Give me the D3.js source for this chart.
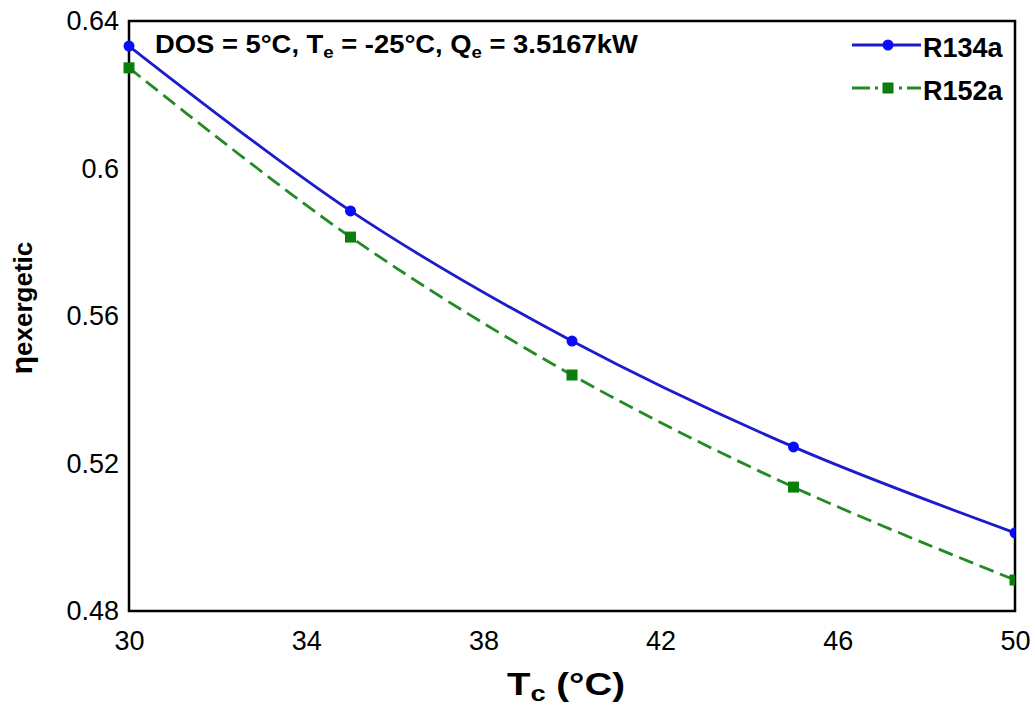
<!DOCTYPE html>
<html><head><meta charset="utf-8">
<script src="https://cdn.jsdelivr.net/npm/d3@7"></script>
<style>body{margin:0;background:#fff;}svg{display:block;font-family:Arial,"Liberation Sans",sans-serif;}</style>
</head><body>
<svg id="chart" width="1035" height="710"></svg>
<script>
const tc = [30, 35, 40, 45, 50];
const r134a = [0.6332, 0.5885, 0.5532, 0.5245, 0.5012];
const r152a = [0.6273, 0.5814, 0.5440, 0.5136, 0.4884];
const xTicks = [30, 34, 38, 42, 46, 50];
const yTicks = [0.48, 0.52, 0.56, 0.6, 0.64];
const yTickLabels = ["0.48", "0.52", "0.56", "0.6", "0.64"];
const seriesNames = ["R134a", "R152a"];

const svg = d3.select("#chart");
const FF = "Arial, 'Liberation Sans', sans-serif";
const L = 129, R = 1015, T = 21, B = 611;
const x = d3.scaleLinear().domain([30, 50]).range([L, R]);
const y = d3.scaleLinear().domain([0.48, 0.64]).range([B, T]);

// axes (labels only, no tick marks)
const xAxis = svg.append("g").attr("transform", `translate(0,${B})`)
  .call(d3.axisBottom(x).tickValues(xTicks).tickSize(0).tickPadding(20).tickFormat(d3.format("d")));
xAxis.select(".domain").remove();
xAxis.selectAll("text").attr("font-size", 27).attr("font-family", FF).attr("fill", "#000");

const yAxis = svg.append("g").attr("transform", `translate(${L},0)`)
  .call(d3.axisLeft(y).tickValues(yTicks).tickSize(0).tickPadding(10).tickFormat((d, i) => yTickLabels[i]));
yAxis.select(".domain").remove();
yAxis.selectAll("text").attr("font-size", 27).attr("font-family", FF).attr("fill", "#000");

// frame
svg.append("rect").attr("x", L).attr("y", T).attr("width", R - L).attr("height", B - T)
  .attr("fill", "none").attr("stroke", "#000").attr("stroke-width", 2.5);

const line = d3.line().x((d, i) => x(tc[i])).y(d => y(d)).curve(d3.curveCatmullRom.alpha(0.5));

svg.append("clipPath").attr("id", "clip").append("rect")
  .attr("x", L - 6).attr("y", T).attr("width", R - L + 6).attr("height", B - T);

const g = svg.append("g");
g.append("path").datum(r134a).attr("d", line).attr("fill", "none")
  .attr("stroke", "#1c1ccc").attr("stroke-width", 2.8);
g.append("path").datum(r152a).attr("d", line).attr("fill", "none")
  .attr("stroke", "#248a24").attr("stroke-width", 2.8).attr("stroke-dasharray", "15,7");

const mk = svg.append("g").attr("clip-path", "url(#clip)");
mk.selectAll("circle.a").data(r134a).enter().append("circle")
  .attr("cx", (d, i) => x(tc[i])).attr("cy", d => y(d)).attr("r", 5.5).attr("fill", "#0a0aff");
mk.selectAll("rect.b").data(r152a).enter().append("rect")
  .attr("x", (d, i) => x(tc[i]) - 5.5).attr("y", d => y(d) - 5.5).attr("width", 11).attr("height", 11).attr("fill", "#0a7d0a");

// annotation
const ann = svg.append("text").attr("x", 155).attr("y", 53).attr("font-size", 25).attr("font-weight", "bold").attr("fill", "#000");
ann.append("tspan").text("DOS = 5°C, T");
ann.append("tspan").attr("font-size", 17).attr("dy", 5).text("e");
ann.append("tspan").attr("dy", -5).text(" = -25°C, Q");
ann.append("tspan").attr("font-size", 17).attr("dy", 5).text("e");
ann.append("tspan").attr("dy", -5).text(" = 3.5167kW");
{
  const w = ann.node().getComputedTextLength();
  const target = 483;
  ann.attr("transform", `translate(155,0) scale(${target / w},1) translate(-155,0)`);
}

// legend
const legY = [45, 88];
const legColors = ["#1c1ccc", "#248a24"];
seriesNames.forEach((name, i) => {
  const lg = svg.append("g");
  lg.append("line").attr("x1", 852).attr("x2", 921).attr("y1", legY[i]).attr("y2", legY[i])
    .attr("stroke", legColors[i]).attr("stroke-width", 2.8)
    .attr("stroke-dasharray", i === 1 ? "18,5,3,5,0,16,3,5,18" : null);
  if (i === 0) lg.append("circle").attr("cx", 888).attr("cy", legY[i]).attr("r", 5.5).attr("fill", "#0a0aff");
  else lg.append("rect").attr("x", 882.5).attr("y", legY[i] - 5.5).attr("width", 11).attr("height", 11).attr("fill", "#0a7d0a");
  lg.append("text").attr("x", 923).attr("y", legY[i] + 12).attr("font-size", 27).attr("font-weight", "bold").attr("fill", "#000").text(name);
});

// axis titles
const xt = svg.append("text").attr("x", 566).attr("y", 695).attr("text-anchor", "middle").attr("font-size", 31).attr("font-weight", "bold").attr("fill", "#000");
xt.append("tspan").text("T");
xt.append("tspan").attr("font-size", 22).attr("dy", 6).text("c");
xt.append("tspan").attr("dy", -6).text(" (°C)");
{
  const w = xt.node().getComputedTextLength();
  xt.attr("transform", `translate(566,0) scale(${118 / w},1) translate(-566,0)`);
}

const yt = svg.append("text").attr("transform", "translate(32,308) rotate(-90)").attr("text-anchor", "middle")
  .attr("font-size", 26).attr("font-weight", "bold").attr("fill", "#000");
yt.append("tspan").attr("font-size", 30).text("η");
yt.append("tspan").text("exergetic");
</script>
</body></html>
